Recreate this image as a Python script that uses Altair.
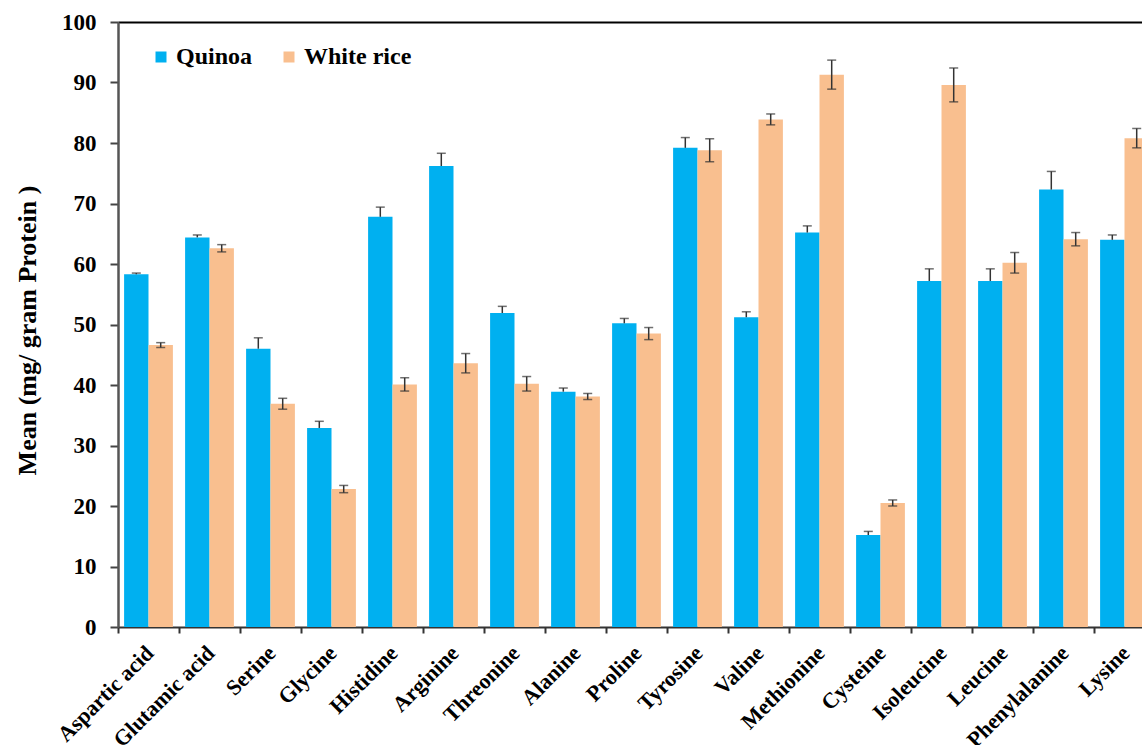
import altair as alt
import pandas as pd

categories = ["Aspartic acid", "Glutamic acid", "Serine", "Glycine", "Histidine",
              "Arginine", "Threonine", "Alanine", "Proline", "Tyrosine", "Valine",
              "Methionine", "Cysteine", "Isoleucine", "Leucine", "Phenylalanine", "Lysine"]
series_names = ["Quinoa", "White rice"]
quinoa = [58.3, 64.4, 46.0, 32.9, 67.8, 76.2, 51.9, 38.9, 50.2, 79.2, 51.2,
          65.2, 15.2, 57.2, 57.2, 72.3, 64.0]
quinoa_err = [0.2, 0.4, 1.8, 1.1, 1.6, 2.1, 1.1, 0.6, 0.8, 1.7, 0.9,
              1.1, 0.6, 2.0, 2.0, 3.0, 0.8]
rice = [46.6, 62.6, 36.9, 22.8, 40.1, 43.6, 40.2, 38.1, 48.5, 78.8, 83.9,
        91.3, 20.5, 89.6, 60.2, 64.1, 80.8]
rice_err = [0.4, 0.6, 0.9, 0.6, 1.1, 1.6, 1.2, 0.5, 1.0, 1.9, 0.9,
            2.4, 0.5, 2.8, 1.7, 1.1, 1.6]
colors = ["#00B0F0", "#F9BF8F"]

FONT = "Liberation Serif"
ERR_COLOR = "#333333"

rows, caps = [], []
for i, c in enumerate(categories):
    rows.append({"cat": c, "series": "Quinoa", "value": quinoa[i],
                 "lo": quinoa[i], "hi": quinoa[i] + quinoa_err[i]})
    rows.append({"cat": c, "series": "White rice", "value": rice[i],
                 "lo": rice[i] - rice_err[i], "hi": rice[i] + rice_err[i]})
    caps.append({"cat": c, "series": "Quinoa", "cap": quinoa[i] + quinoa_err[i]})
    caps.append({"cat": c, "series": "White rice", "cap": rice[i] + rice_err[i]})
    caps.append({"cat": c, "series": "White rice", "cap": rice[i] - rice_err[i]})
df = pd.DataFrame(rows)
df_caps = pd.DataFrame(caps)

x_scale = alt.Scale(domain=categories, range=[0, 1037], paddingInner=0.2, paddingOuter=0.1)
xo = alt.XOffset("series:N", scale=alt.Scale(domain=series_names, paddingInner=0, paddingOuter=0))

y_axis = alt.Axis(values=list(range(0, 101, 10)), title="Mean (mg/ gram Protein )",
                  titleFont=FONT, titleFontSize=26, titleFontWeight="bold", titleColor="black",
                  titleX=-83, titleY=308, titleAngle=270, titleBaseline="alphabetic",
                  titleAlign="center",
                  labelFont=FONT, labelFontSize=23, labelFontWeight="bold", labelColor="black",
                  tickSize=8, tickWidth=2, tickColor="#444", labelPadding=14, grid=False,
                  domainColor="#555", domainWidth=2.5)
y_scale = alt.Scale(domain=[0, 100], nice=False)

bars = alt.Chart(df).mark_bar().encode(
    x=alt.X("cat:N", scale=x_scale, sort=categories, title=None,
            axis=alt.Axis(orient="bottom", labelAngle=-45, labelFont=FONT, labelFontSize=22,
                          labelFontWeight="bold", labelColor="black", tickSize=6, tickWidth=2,
                          tickColor="#333", tickOffset=-30.5, labelOffset=24.5, labelPadding=9,
                          domainColor="#333", domainWidth=2, labelOverlap=False)),
    xOffset=xo,
    y=alt.Y("value:Q", scale=y_scale, axis=y_axis),
    color=alt.Color("series:N",
                    scale=alt.Scale(domain=series_names, range=colors),
                    legend=alt.Legend(title=None, orient="none", legendX=31, legendY=23,
                                      direction="horizontal", symbolType="square",
                                      symbolSize=121, symbolStrokeWidth=0,
                                      labelFont=FONT, labelFontSize=24, labelFontWeight="bold",
                                      labelColor="black", columnPadding=24, labelOffset=3,
                                      padding=0)),
)

err = alt.Chart(df).mark_rule(color=ERR_COLOR, strokeWidth=1.5).encode(
    x=alt.X("cat:N", scale=x_scale, sort=categories, title=None,
            axis=alt.Axis(orient="top", labels=False, ticks=False, domain=True,
                          domainColor="black", domainWidth=2, title=None)),
    xOffset=xo,
    y=alt.Y("lo:Q", scale=y_scale, axis=y_axis),
    y2="hi:Q",
)

cap = alt.Chart(df_caps).mark_tick(color=ERR_COLOR, size=9, thickness=1.5,
                                   orient="horizontal").encode(
    x=alt.X("cat:N", scale=x_scale, sort=categories, title=None, axis=None),
    xOffset=xo,
    y=alt.Y("cap:Q", scale=y_scale, axis=y_axis),
)

chart = alt.layer(bars, err, cap).resolve_axis(x="independent").properties(
    width=1024, height=605,
    autosize=alt.AutoSizeParams(type="none"),
    padding={"left": 118, "top": 22, "right": 0, "bottom": 118},
    background="white",
).configure_view(stroke=None).configure_legend(
    labelFont=FONT, labelFontWeight="bold", labelFontSize=24
)

chart.save("out.html", embed_options={"renderer": "svg", "actions": False})
